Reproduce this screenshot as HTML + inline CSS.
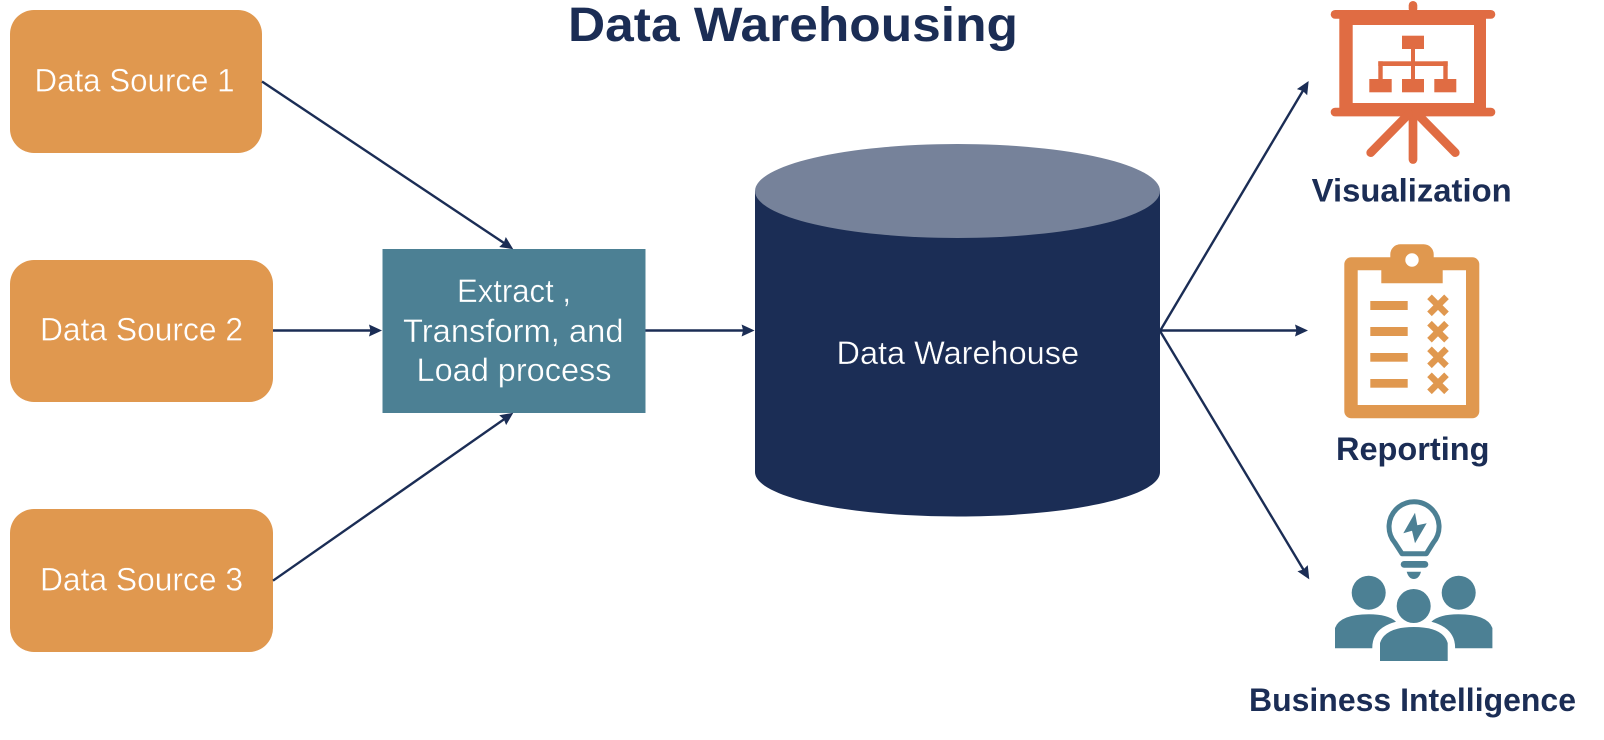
<!DOCTYPE html>
<html lang="en">
<head>
<meta charset="utf-8">
<title>Data Warehousing</title>
<style>
html,body{margin:0;padding:0;background:#fff;width:1604px;height:740px;overflow:hidden}
svg{display:block}
text{font-family:"Liberation Sans",sans-serif}
.w{fill:#fff;font-size:32px;stroke-width:.35px}
.b{fill:#1b2d55;font-weight:bold;font-size:32px}
</style>
</head>
<body>
<svg width="1604" height="740" viewBox="0 0 1604 740" xmlns="http://www.w3.org/2000/svg">
<defs>
<marker id="a" markerUnits="userSpaceOnUse" markerWidth="16" markerHeight="14" refX="7" refY="6.5" orient="auto">
<path d="M0,0.5 L13,6.5 L0,12.5 L1.5,6.5 Z" fill="#1b2d55"/>
</marker>
</defs>
<rect width="1604" height="740" fill="#fff"/>

<text class="b" x="568" y="41" style="font-size:48px" textLength="450" lengthAdjust="spacingAndGlyphs">Data Warehousing</text>

<!-- sources -->
<rect x="10" y="10" width="252" height="143" rx="24" fill="#e0984f"/>
<rect x="10" y="260" width="263" height="142" rx="24" fill="#e0984f"/>
<rect x="10" y="509" width="263" height="143" rx="24" fill="#e0984f"/>
<g stroke="#e0984f">
<text class="w" x="34.5" y="91.5" textLength="200" lengthAdjust="spacingAndGlyphs">Data Source 1</text>
<text class="w" x="40" y="340.5" textLength="203" lengthAdjust="spacingAndGlyphs">Data Source 2</text>
<text class="w" x="40" y="590.5" textLength="203" lengthAdjust="spacingAndGlyphs">Data Source 3</text>
</g>

<!-- ETL -->
<rect x="382.5" y="249" width="263" height="164" fill="#4c8094"/>
<g stroke="#4c8094">
<text class="w" x="457" y="302" textLength="114" lengthAdjust="spacingAndGlyphs">Extract ,</text>
<text class="w" x="403" y="342" textLength="220.5" lengthAdjust="spacingAndGlyphs">Transform, and</text>
<text class="w" x="416.5" y="381" textLength="195" lengthAdjust="spacingAndGlyphs">Load process</text>
</g>

<!-- cylinder -->
<path d="M755,191 V472 C755,497 846,516.5 957.5,516.5 C1069,516.5 1160,497 1160,472 V191 Z" fill="#1b2d55"/>
<ellipse cx="957.5" cy="191" rx="202.5" ry="47" fill="#76829a"/>
<text class="w" stroke="#1b2d55" x="836.5" y="364" textLength="242.5" lengthAdjust="spacingAndGlyphs">Data Warehouse</text>

<!-- connectors -->
<g stroke="#1b2d55" stroke-width="2.4" fill="none">
<line x1="262" y1="81.5" x2="508.3" y2="245.9" marker-end="url(#a)"/>
<line x1="273" y1="330.5" x2="376" y2="330.5" marker-end="url(#a)"/>
<line x1="273" y1="580.7" x2="508.4" y2="416.2" marker-end="url(#a)"/>
<line x1="645.5" y1="330.5" x2="748.6" y2="330.5" marker-end="url(#a)"/>
<line x1="1160" y1="331" x2="1305.6" y2="86.2" marker-end="url(#a)"/>
<line x1="1160" y1="330.5" x2="1302" y2="330.5" marker-end="url(#a)"/>
<line x1="1160" y1="331" x2="1306.2" y2="574.2" marker-end="url(#a)"/>
</g>

<!-- Visualization icon -->
<g fill="#e06c43">
<rect x="1330.7" y="10" width="164.6" height="8.8" rx="4.4"/>
<rect x="1330.7" y="107.7" width="164.6" height="8.7" rx="4.3"/>
<rect x="1408.7" y="1" width="8.6" height="12" rx="4.3"/>
<path fill-rule="evenodd" d="M1339.3,15 H1486 V110 H1339.3 Z M1352.7,25 V103 H1474 V25 Z"/>
<rect x="1402" y="35.7" width="22" height="13.3"/>
<rect x="1411" y="49" width="4" height="30"/>
<rect x="1378.3" y="61.3" width="69.4" height="4.7"/>
<rect x="1378.3" y="61.3" width="4.4" height="18"/>
<rect x="1443.3" y="61.3" width="4.4" height="18"/>
<rect x="1369.3" y="79" width="22.4" height="13.3"/>
<rect x="1402" y="79" width="22" height="13.3"/>
<rect x="1434.3" y="79" width="22" height="13.3"/>
</g>
<g stroke="#e06c43" stroke-width="8.7" stroke-linecap="round" fill="none">
<line x1="1413" y1="112" x2="1413" y2="159.5"/>
<line x1="1408.7" y1="114" x2="1370.7" y2="152.7"/>
<line x1="1417.3" y1="114" x2="1455.3" y2="152.7"/>
</g>
<text class="b" x="1311.7" y="201.7" textLength="200" lengthAdjust="spacingAndGlyphs">Visualization</text>

<!-- Reporting icon -->
<path fill="#e0984f" fill-rule="evenodd" d="M1351.3,257.3 H1390.3 V254.3 A10,10 0 0 1 1400.3,244.3 H1423.7 A10,10 0 0 1 1433.7,254.3 V257.3 H1472.3 A7,7 0 0 1 1479.3,264.3 V411.3 A7,7 0 0 1 1472.3,418.3 H1351.3 A7,7 0 0 1 1344.3,411.3 V264.3 A7,7 0 0 1 1351.3,257.3 Z M1357.7,270.3 V405 H1466 V270.3 H1442.7 V283.3 H1381.3 V270.3 Z"/>
<circle cx="1412" cy="260" r="6.7" fill="#fff"/>
<g fill="#e0984f">
<rect x="1370.3" y="301" width="37.4" height="9"/>
<rect x="1370.3" y="327" width="37.4" height="9"/>
<rect x="1370.3" y="353" width="37.4" height="8.7"/>
<rect x="1370.3" y="379" width="37.4" height="8.7"/>
</g>
<g stroke="#e0984f" stroke-width="6.5" fill="none">
<path d="M1429.5,296.8 L1446.5,313.8 M1446.5,296.8 L1429.5,313.8"/>
<path d="M1429.5,323.2 L1446.5,340.2 M1446.5,323.2 L1429.5,340.2"/>
<path d="M1429.5,348.8 L1446.5,365.8 M1446.5,348.8 L1429.5,365.8"/>
<path d="M1429.5,374.8 L1446.5,391.8 M1446.5,374.8 L1429.5,391.8"/>
</g>
<text class="b" x="1336" y="460" textLength="153.5" lengthAdjust="spacingAndGlyphs">Reporting</text>

<!-- BI icon -->
<path d="M1402,553.7 H1426.4 L1433.2,542.8 A25,25 0 1 0 1394.9,542.8 Z" fill="none" stroke="#4c8094" stroke-width="5" stroke-linejoin="round"/>
<g fill="#4c8094">
<polygon points="1415,512.7 1403.3,533.3 1412,530.7 1415,543.3 1426.7,523.3 1417.3,525.3"/>
<rect x="1400.7" y="561" width="27.6" height="6.8" rx="3.4"/>
<path d="M1406.7,571.8 H1421 Q1419,579 1413.8,579 Q1408.7,579 1406.7,571.8 Z"/>
<circle cx="1368.7" cy="592.7" r="17"/>
<circle cx="1458.7" cy="592.7" r="17"/>
<circle cx="1413.7" cy="606" r="17"/>
<path d="M1335,648.3 V628 Q1340,614.3 1369,614.3 Q1388,614.3 1396,621.7 Q1372,628 1372.3,648.3 Z"/>
<path d="M1492.4,648.3 V628 Q1487.4,614.3 1458.4,614.3 Q1439.4,614.3 1431.4,621.7 Q1455.4,628 1455.1,648.3 Z"/>
<path d="M1380,661 V643 Q1385,627 1413.7,627 Q1443,627 1447.7,643 V661 Z"/>
</g>
<text class="b" x="1249" y="711" textLength="327" lengthAdjust="spacingAndGlyphs">Business Intelligence</text>
</svg>
</body>
</html>
